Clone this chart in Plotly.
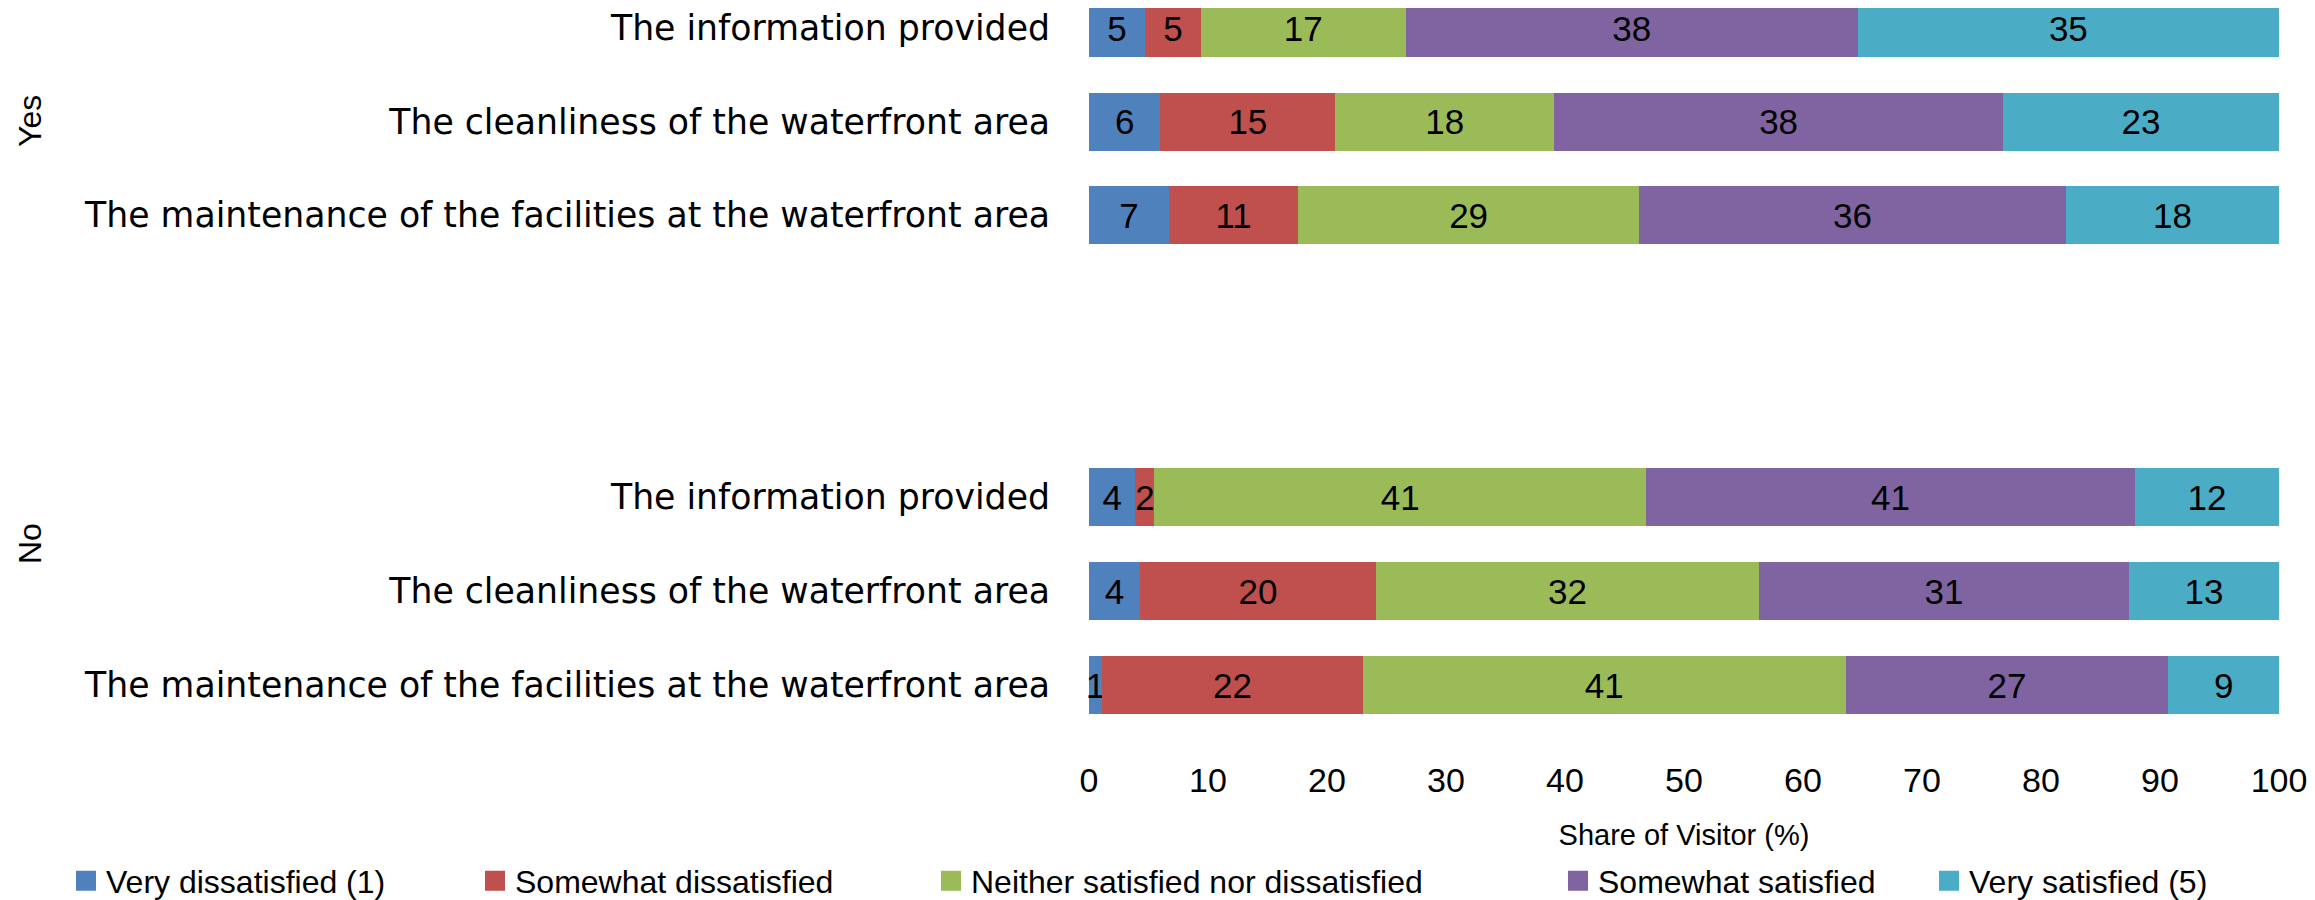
import plotly.graph_objects as go

levels = ["Very dissatisfied (1)", "Somewhat dissatisfied", "Neither satisfied nor dissatisfied",
          "Somewhat satisfied", "Very satisfied (5)"]
colors = ["#4F81BD", "#C0504D", "#9BBB59", "#8064A2", "#4BACC6"]
aspects = ["The information provided", "The cleanliness of the waterfront area",
           "The maintenance of the facilities at the waterfront area"]
groups = ["Yes", "No"]
x_ticks = [0, 10, 20, 30, 40, 50, 60, 70, 80, 90, 100]

# share of visitors (%) per level, one value per aspect
yes_very_dissatisfied = [4.7, 6.0, 6.7]
yes_somewhat_dissatisfied = [4.7, 14.7, 10.9]
yes_neither = [17.2, 18.4, 28.6]
yes_somewhat_satisfied = [38.0, 37.7, 35.9]
yes_very_satisfied = [35.4, 23.2, 17.9]

no_very_dissatisfied = [3.9, 4.3, 1.1]
no_somewhat_dissatisfied = [1.6, 19.8, 21.9]
no_neither = [41.3, 32.2, 40.6]
no_somewhat_satisfied = [41.1, 31.1, 27.1]
no_very_satisfied = [12.1, 12.6, 9.3]

yes_series = [yes_very_dissatisfied, yes_somewhat_dissatisfied, yes_neither,
              yes_somewhat_satisfied, yes_very_satisfied]
no_series = [no_very_dissatisfied, no_somewhat_dissatisfied, no_neither,
             no_somewhat_satisfied, no_very_satisfied]

# page geometry (px on the page); the html body adds an 8px margin
W, H, OFF = 2315, 900, 8
plot_left, plot_right = 1089, 2279
plot_top, plot_bottom = OFF, 732
plot_h = plot_bottom - plot_top
yes_bottom, no_top = 262, 450
row_step = 93.6
yes_first_row = 28

fig = go.Figure()

for axis, series in [("y", yes_series), ("y2", no_series)]:
    for name, color, vals in zip(levels, colors, series):
        fig.add_trace(go.Bar(
            y=aspects, x=vals, orientation="h", name=name, xaxis="x", yaxis=axis,
            marker=dict(color=color, line=dict(width=0)),
            text=vals, texttemplate="%{x:.0f}", textposition="inside",
            insidetextanchor="middle", constraintext="none", cliponaxis=False,
            textfont=dict(family="Liberation Sans", size=35, color="black"),
            showlegend=False, hoverinfo="x+y+name"))

# legend entries with larger square swatches, one legend per entry
legend_lefts = [74, 483, 939, 1566, 1937]
for k, (name, color) in enumerate(zip(levels, colors)):
    fig.add_trace(go.Scatter(
        x=[None], y=[None], mode="markers", name=name, xaxis="x", yaxis="y2",
        marker=dict(symbol="square", size=16, color=color, line=dict(width=4, color=color)),
        legend="legend" if k == 0 else f"legend{k + 1}"))

fw, fh = W - OFF, H - OFF
legend_style = dict(orientation="h", xref="container", yref="container", xanchor="left",
                    yanchor="middle", y=(fh - (881 - OFF)) / fh, bgcolor="rgba(0,0,0,0)",
                    font=dict(family="Liberation Sans", size=32, color="black"))
legends = {}
for k, left in enumerate(legend_lefts):
    key = "legend" if k == 0 else f"legend{k + 1}"
    legends[key] = dict(legend_style, x=(left - 8 - OFF) / fw)

cat_font = dict(family="DejaVu Sans", size=34.7, color="black")
fig.update_layout(
    width=fw, height=fh, barmode="stack", bargap=0.38,
    paper_bgcolor="white", plot_bgcolor="white",
    margin=dict(l=plot_left - OFF, r=W - plot_right, t=plot_top - OFF, b=H - plot_bottom),
    xaxis=dict(domain=[0, 1], range=[0, 100], anchor="y2", tickvals=x_ticks,
               showgrid=False, zeroline=False, showline=False, ticks="",
               ticklabelstandoff=25,
               tickfont=dict(family="Liberation Sans", size=34, color="black"),
               title=dict(text="Share of Visitor (%)", standoff=26,
                          font=dict(family="Liberation Sans", size=29, color="black"))),
    yaxis=dict(domain=[(plot_bottom - yes_bottom) / plot_h, 1], type="category",
               categoryarray=aspects,
               range=[2.5, (plot_top - yes_first_row) / row_step], anchor="x",
               showgrid=False, zeroline=False, showline=False, ticks="",
               ticklabelstandoff=38, tickfont=cat_font),
    yaxis2=dict(domain=[0, (plot_bottom - no_top) / plot_h], type="category",
                categoryarray=aspects, range=[2.5, -0.5], anchor="x",
                showgrid=False, zeroline=False, showline=False, ticks="",
                ticklabelstandoff=38, tickfont=cat_font),
    **legends,
)

group_centers = [121, 544]
for label, yc in zip(groups, group_centers):
    fig.add_annotation(text=label, textangle=-90, showarrow=False,
                       xref="paper", yref="paper",
                       x=(30 - plot_left) / (plot_right - plot_left),
                       y=(plot_bottom - yc) / plot_h,
                       xanchor="center", yanchor="middle",
                       font=dict(family="Liberation Sans", size=32, color="black"))

fig.write_html("out.html")
